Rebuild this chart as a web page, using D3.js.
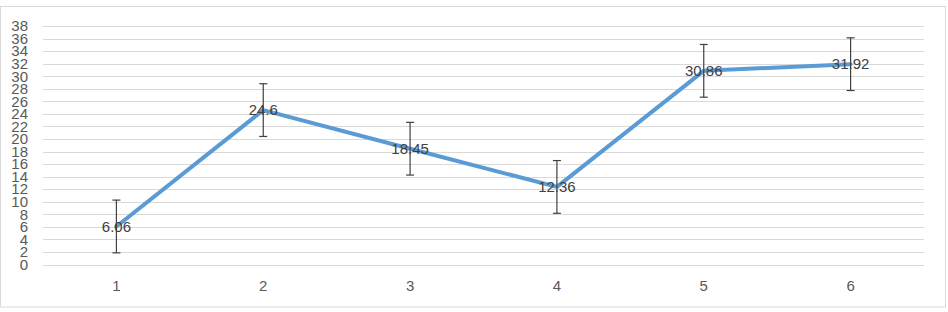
<!DOCTYPE html>
<html>
<head>
<meta charset="utf-8">
<script src="https://cdn.jsdelivr.net/npm/d3@7"></script>
<style>
  body { margin: 0; background: #fff; }
  text { font-family: "Liberation Sans", Arial, sans-serif; }
</style>
</head>
<body>
<svg width="948" height="312"></svg>
<script>
var categories = ["1", "2", "3", "4", "5", "6"];
var values = [6.06, 24.6, 18.45, 12.36, 30.86, 31.92];
var errors = [4.2, 4.2, 4.2, 4.2, 4.2, 4.2];
var yTicks = d3.range(0, 40, 2);

var svg = d3.select("svg"),
    margin = {top: 26, right: 24, bottom: 47.5, left: 43},
    width = 948 - margin.left - margin.right,
    height = 312 - margin.top - margin.bottom;

// chart border
svg.append("rect")
  .attr("x", 0.5).attr("y", 6.5)
  .attr("width", 945).attr("height", 300.5)
  .attr("fill", "none")
  .attr("stroke", "#d9d9d9");

var g = svg.append("g").attr("transform", "translate(" + margin.left + "," + margin.top + ")");

var x = d3.scaleBand().domain(categories).range([0, width]);
var y = d3.scaleLinear().domain([0, 38]).range([height, 0]);

// gridlines
g.append("g")
  .selectAll("line")
  .data(yTicks)
  .enter().append("line")
    .attr("x1", 0).attr("x2", width)
    .attr("y1", function(d) { return Math.round(y(d)) + 0.5; })
    .attr("y2", function(d) { return Math.round(y(d)) + 0.5; })
    .attr("stroke", "#d9d9d9")
    .attr("stroke-width", 1);

// y axis labels
var yAxis = g.append("g")
  .attr("transform", "translate(-15,0)")
  .call(d3.axisLeft(y).tickValues(yTicks).tickSize(0).tickPadding(0));
yAxis.select(".domain").remove();
yAxis.selectAll("text").attr("fill", "#595959").attr("font-size", 15).attr("font-family", "Liberation Sans, Arial, sans-serif");

// x axis labels
var xAxis = g.append("g")
  .attr("transform", "translate(0," + height + ")")
  .call(d3.axisBottom(x).tickSize(0).tickPadding(16));
xAxis.select(".domain").remove();
xAxis.selectAll("text").attr("fill", "#595959").attr("font-size", 15).attr("font-family", "Liberation Sans, Arial, sans-serif");

var cx = function(i) { return x(categories[i]) + x.bandwidth() / 2; };

// line
var line = d3.line()
  .x(function(d, i) { return cx(i); })
  .y(function(d) { return y(d); });

g.append("path")
  .datum(values)
  .attr("fill", "none")
  .attr("stroke", "#5b9bd5")
  .attr("stroke-width", 4)
  .attr("stroke-linejoin", "round")
  .attr("stroke-linecap", "round")
  .attr("d", line);

// error bars
var eb = g.append("g").selectAll("g")
  .data(values)
  .enter().append("g")
    .attr("stroke", "#404040")
    .attr("stroke-width", 1.2);

eb.append("line")
  .attr("x1", function(d, i) { return cx(i); })
  .attr("x2", function(d, i) { return cx(i); })
  .attr("y1", function(d, i) { return y(d + errors[i]); })
  .attr("y2", function(d, i) { return y(d - errors[i]); });

eb.append("line")
  .attr("x1", function(d, i) { return cx(i) - 4; })
  .attr("x2", function(d, i) { return cx(i) + 4; })
  .attr("y1", function(d, i) { return y(d + errors[i]); })
  .attr("y2", function(d, i) { return y(d + errors[i]); });

eb.append("line")
  .attr("x1", function(d, i) { return cx(i) - 4; })
  .attr("x2", function(d, i) { return cx(i) + 4; })
  .attr("y1", function(d, i) { return y(d - errors[i]); })
  .attr("y2", function(d, i) { return y(d - errors[i]); });

// data labels
g.append("g").selectAll("text")
  .data(values)
  .enter().append("text")
    .attr("x", function(d, i) { return cx(i); })
    .attr("y", function(d) { return y(d); })
    .attr("dy", "0.35em")
    .attr("text-anchor", "middle")
    .attr("font-size", 15)
    .attr("fill", "#404040")
    .text(function(d) { return d; });
</script>
</body>
</html>
